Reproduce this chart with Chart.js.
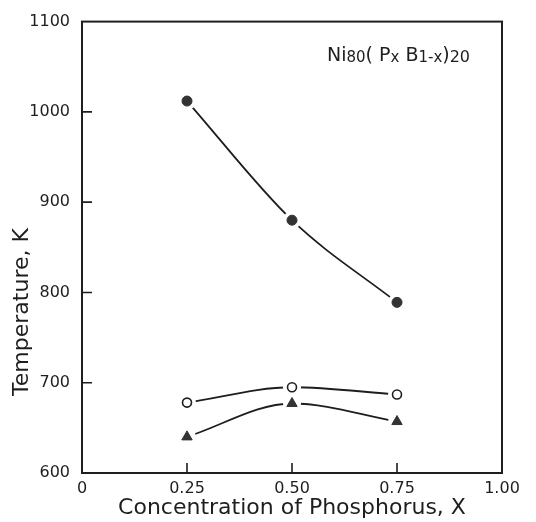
<!DOCTYPE html>
<html>
<head>
  <title>Ni80(PxB1-x)20</title>
  <script src="https://cdn.jsdelivr.net/npm/chart.js"></script>
  <style>
    body { margin: 0; background: #fff; }
    #wrap { width: 536px; height: 522px; position: relative; }
  </style>
</head>
<body>
  <div id="wrap"><canvas id="chart"></canvas></div>

  <script>
    // concentration of phosphorus, X
    var conc = [0.25, 0.50, 0.75];
    // temperatures (K)
    var filledCircle = [1012, 880, 789];
    var openCircle = [678, 695, 687];
    var triangle = [640, 677, 657];
    // tick positions
    var xTicks = [0, 0.25, 0.50, 0.75, 1.00];
    var yTicks = [600, 700, 800, 900, 1000, 1100];

    var ink = "#1e1e1e";
    var fontName = "'DejaVu Sans', sans-serif";

    function pts(vals) {
      return conc.map(function (c, i) { return { x: c, y: vals[i] }; });
    }

    function lineSet(vals) {
      return { data: pts(vals), borderColor: ink, borderWidth: 1.8, cubicInterpolationMode: "monotone",
               pointRadius: 0, showLine: true, order: 2 };
    }
    function maskSet(vals) {
      return { data: pts(vals), showLine: false, pointRadius: 9, pointBorderWidth: 0,
               pointBackgroundColor: "#fff", pointBorderColor: "#fff", order: 1 };
    }

    var datasets = [
      { label: "filled circle", data: pts(filledCircle), showLine: false, pointStyle: "circle",
        pointRadius: 5, pointBackgroundColor: "#333", pointBorderColor: "#333", pointBorderWidth: 1, order: 0 },
      { label: "open circle", data: pts(openCircle), showLine: false, pointStyle: "circle",
        pointRadius: 4.5, pointBackgroundColor: "#fff", pointBorderColor: ink, pointBorderWidth: 1.6, order: 0 },
      { label: "triangle", data: pts(triangle), showLine: false, pointStyle: "triangle",
        pointRadius: 6, pointBackgroundColor: "#333", pointBorderColor: "#333", pointBorderWidth: 1, order: 0 },
      maskSet(filledCircle), maskSet(openCircle), maskSet(triangle),
      lineSet(filledCircle), lineSet(openCircle), lineSet(triangle)
    ];

    // frame, inward ticks, y title and the formula
    var extras = {
      id: "extras",
      afterDraw: function (chart) {
        var c = chart.ctx, a = chart.chartArea;
        var xs = chart.scales.x, ys = chart.scales.y;
        c.save();
        c.strokeStyle = ink;
        c.lineWidth = 2;
        c.strokeRect(a.left, a.top, a.right - a.left, a.bottom - a.top);
        c.lineWidth = 1.6;
        c.beginPath();
        yTicks.forEach(function (v) {
          if (v === 600 || v === 1100) return;
          var y = ys.getPixelForValue(v);
          c.moveTo(a.left, y); c.lineTo(a.left + 10, y);
        });
        xTicks.forEach(function (v) {
          if (v === 0 || v === 1) return;
          var x = xs.getPixelForValue(v);
          c.moveTo(x, a.bottom); c.lineTo(x, a.bottom - 10);
        });
        c.stroke();

        c.fillStyle = ink;
        c.translate(22, 312);
        c.rotate(-Math.PI / 2);
        c.textAlign = "center";
        c.textBaseline = "middle";
        c.font = "22px " + fontName;
        c.fillText("Temperature, K", 0, 0);
        c.setTransform(1, 0, 0, 1, 0, 0);

        var parts = [["Ni", 19, 0], ["80", 15, 1], ["( P", 19, 0], ["x", 15, 1],
                     [" B", 19, 0], ["1-x", 15, 1], [")", 19, 0], ["20", 16, 1]];
        var x = 327, base = 61;
        c.textAlign = "left";
        c.textBaseline = "alphabetic";
        parts.forEach(function (p) {
          c.font = p[1] + "px " + fontName;
          c.fillText(p[0], x, base + p[2]);
          x += c.measureText(p[0]).width;
        });
        c.restore();
      }
    };

    var ctx = document.getElementById("chart").getContext("2d");
    var chart = new Chart(ctx, {
      type: "scatter",
      data: { datasets: datasets },
      plugins: [extras],
      options: {
        responsive: true,
        maintainAspectRatio: false,
        animation: false,
        layout: { padding: { top: 20, right: 34, left: 0, bottom: 0 } },
        plugins: { legend: { display: false }, tooltip: { enabled: false } },
        scales: {
          x: {
            type: "linear", min: 0, max: 1,
            afterBuildTicks: function (s) { s.ticks = xTicks.map(function (v) { return { value: v }; }); },
            afterFit: function (s) { s.height = 49; },
            grid: { display: false, drawTicks: false },
            border: { display: false },
            ticks: {
              padding: 6, color: ink, font: { family: fontName, size: 16 },
              maxRotation: 0, autoSkip: false,
              callback: function (v) { return v === 0 ? "0" : Number(v).toFixed(2); }
            },
            title: {
              display: true, text: "Concentration of Phosphorus, X", color: ink,
              font: { family: fontName, size: 22 }, padding: { top: 0, bottom: 1 }
            }
          },
          y: {
            type: "linear", min: 600, max: 1100,
            afterBuildTicks: function (s) { s.ticks = yTicks.map(function (v) { return { value: v }; }); },
            afterFit: function (s) { s.width = 82; },
            grid: { display: false, drawTicks: false },
            border: { display: false },
            ticks: {
              padding: 12, color: ink, font: { family: fontName, size: 16 },
              callback: function (v) { return String(v); }
            }
          }
        }
      }
    });
  </script>
</body>
</html>
